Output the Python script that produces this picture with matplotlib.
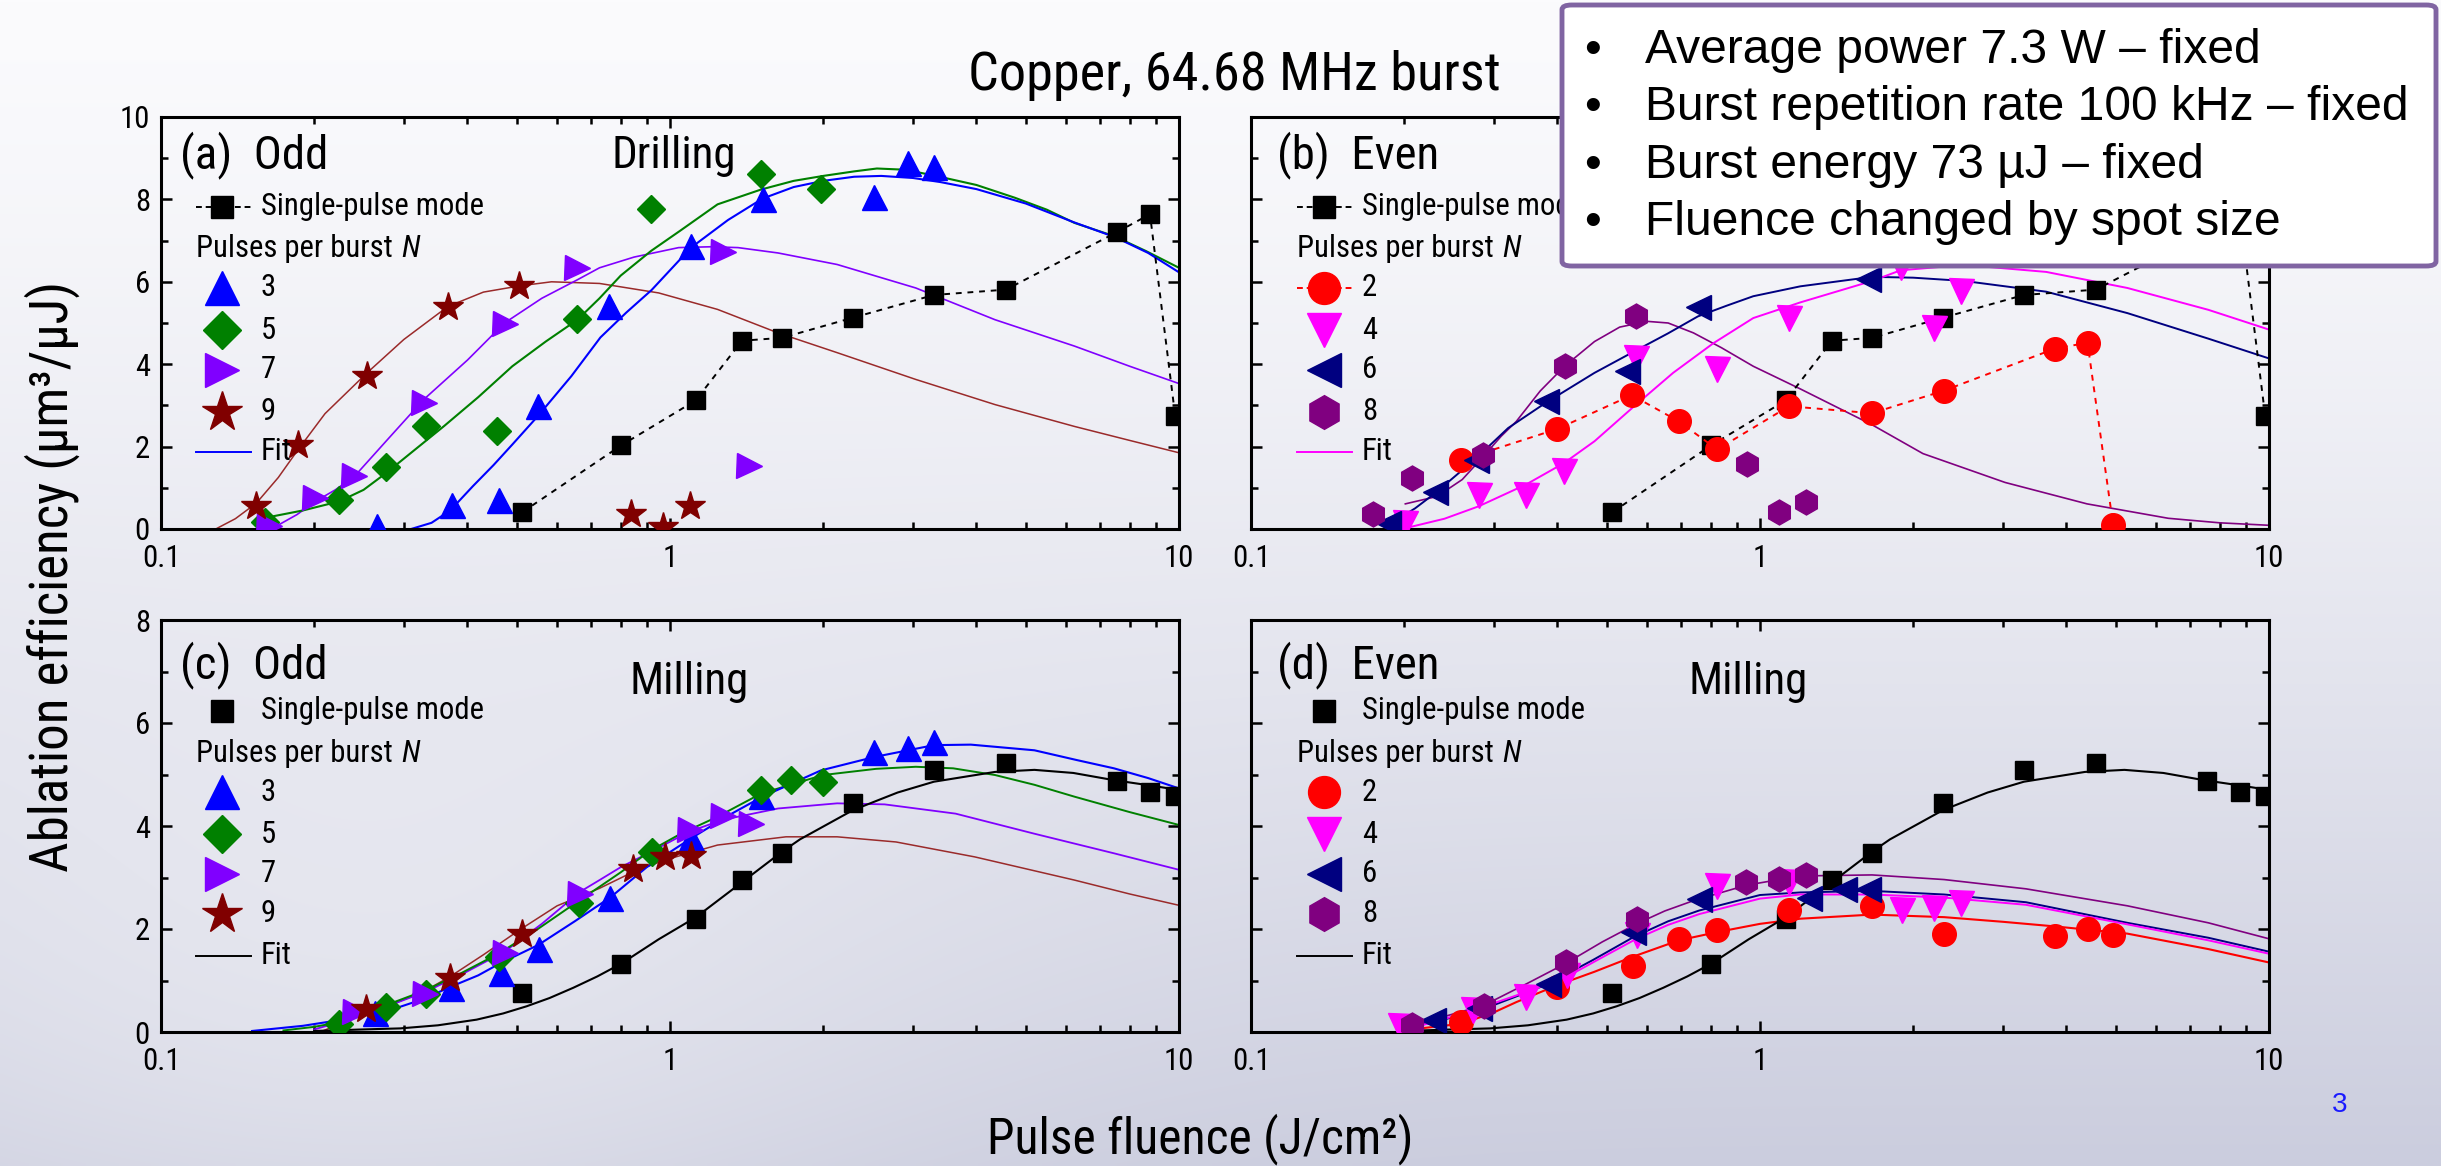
import numpy as np
import matplotlib
matplotlib.use('Agg')
import matplotlib.pyplot as plt
from matplotlib.font_manager import fontManager
from matplotlib.ticker import LogLocator, NullFormatter, MultipleLocator
from matplotlib.patches import FancyBboxPatch

# the figure part of the slide uses a condensed sans face; take one if there is any
_names = {f.name for f in fontManager.ttflist}
FAM, STRETCH = 'Liberation Sans', 'normal'
for _n in ['Liberation Sans Narrow', 'Arial Narrow', 'Roboto Condensed', 'Nimbus Sans Narrow',
           'Open Sans Condensed', 'Noto Sans Condensed']:
    if _n in _names:
        FAM = _n
        break
else:
    for _fam in ['Roboto', 'Noto Sans', 'Open Sans']:
        _hit = [f for f in fontManager.ttflist if f.name == _fam and f.style == 'normal'
                and 'condensed' in str(f.stretch) and str(f.weight) in ('400', 'normal', 'regular')]
        if _hit:
            FAM, STRETCH = _fam, _hit[0].stretch
            break

plt.rcParams['font.family'] = [FAM, 'Liberation Sans', 'DejaVu Sans']
plt.rcParams['font.stretch'] = STRETCH

# ---------------- data ----------------
# single-pulse mode, shared by (a)/(b) and (c)/(d)
SP_X = [0.513, 0.802, 1.123, 1.385, 1.66, 2.29, 3.30, 4.57, 7.54, 8.77, 9.83]
SP_DRILL_Y = [0.41, 2.03, 3.12, 4.57, 4.64, 5.13, 5.68, 5.81, 7.20, 7.64, 2.74]
SP_MILL_Y = [0.76, 1.33, 2.20, 2.96, 3.48, 4.45, 5.08, 5.23, 4.87, 4.66, 4.58]
SP_FIT_X = [0.2, 0.25, 0.295, 0.35, 0.417, 0.47, 0.523, 0.58, 0.646, 0.72, 0.803, 0.95, 1.125,
            1.39, 1.66, 1.8, 2.29, 2.8, 3.30, 4.35, 5.2, 6.2, 7.45, 8.6, 10]
SP_FIT_Y = [0.02, 0.05, 0.07, 0.13, 0.24, 0.36, 0.5, 0.66, 0.86, 1.08, 1.33, 1.8, 2.23,
            2.92, 3.5, 3.74, 4.31, 4.65, 4.86, 5.05, 5.09, 5.03, 4.89, 4.8, 4.70]

# (a) odd, drilling
A3_X = [0.266, 0.373, 0.461, 0.551, 0.76, 1.10, 1.52, 2.52, 2.93, 3.30]
A3_Y = [0.08, 0.59, 0.71, 2.98, 5.42, 6.87, 8.02, 8.06, 8.89, 8.79]
A5_X = [0.160, 0.224, 0.277, 0.331, 0.458, 0.658, 0.918, 1.51, 1.98]
A5_Y = [0.16, 0.70, 1.50, 2.49, 2.39, 5.10, 7.76, 8.62, 8.26]
A7_X = [0.163, 0.201, 0.239, 0.328, 0.473, 0.658, 1.27, 1.43]
A7_Y = [0.08, 0.75, 1.28, 3.07, 4.98, 6.34, 6.72, 1.52]
A9_X = [0.154, 0.186, 0.254, 0.366, 0.506, 0.839, 0.968, 1.097]
A9_Y = [0.55, 2.05, 3.71, 5.38, 5.91, 0.37, 0.06, 0.57]

A3_FIT_X = [0.31, 0.34, 0.37, 0.41, 0.45, 0.49, 0.55, 0.64, 0.73, 0.82, 0.92, 1.1, 1.3, 1.52,
            1.75, 2.0, 2.3, 2.6, 3.0, 3.4, 4.0, 5.0, 6.2, 7.5, 8.7, 10]
A3_FIT_Y = [0.0, 0.15, 0.45, 1.04, 1.55, 2.05, 2.74, 3.71, 4.65, 5.25, 5.8, 6.83, 7.5, 8.02,
            8.3, 8.45, 8.55, 8.57, 8.52, 8.42, 8.25, 7.9, 7.45, 7.08, 6.7, 6.23]
A5_FIT_X = [0.16, 0.19, 0.224, 0.25, 0.277, 0.31, 0.36, 0.42, 0.49, 0.57, 0.658, 0.727, 0.8,
            0.918, 1.05, 1.24, 1.51, 1.75, 2.0, 2.3, 2.55, 2.9, 3.33, 4.0, 4.76, 5.5, 6.23,
            7.45, 8.6, 10]
A5_FIT_Y = [0.27, 0.45, 0.67, 0.95, 1.36, 1.85, 2.5, 3.2, 3.95, 4.55, 5.08, 5.6, 6.15,
            6.75, 7.25, 7.88, 8.24, 8.45, 8.57, 8.68, 8.75, 8.72, 8.57, 8.35, 8.04, 7.75, 7.43,
            7.11, 6.75, 6.34]
A7_FIT_X = [0.168, 0.185, 0.201, 0.22, 0.24, 0.28, 0.328, 0.4, 0.473, 0.56, 0.658, 0.727, 0.85,
            1.04, 1.2, 1.36, 1.63, 2.13, 3.04, 4.35, 6.23, 8.0, 10]
A7_FIT_Y = [0.06, 0.35, 0.67, 0.95, 1.28, 2.2, 3.14, 4.1, 5.0, 5.6, 6.05, 6.34, 6.6,
            6.83, 6.85, 6.83, 6.7, 6.42, 5.85, 5.08, 4.44, 3.95, 3.53]
A9_FIT_X = [0.129, 0.14, 0.154, 0.17, 0.186, 0.21, 0.254, 0.3, 0.366, 0.43, 0.506, 0.585,
            0.727, 0.95, 1.24, 1.63, 2.13, 3.04, 4.35, 6.23, 8.0, 10]
A9_FIT_Y = [0.02, 0.25, 0.63, 1.25, 1.93, 2.8, 3.79, 4.6, 5.4, 5.75, 5.9, 6.0,
            5.96, 5.73, 5.33, 4.76, 4.28, 3.63, 3.02, 2.49, 2.15, 1.85]

# (b) even, drilling
B2_X = [0.258, 0.40, 0.56, 0.693, 0.824, 1.14, 1.66, 2.30, 3.80, 4.40, 4.94]
B2_Y = [1.67, 2.43, 3.25, 2.61, 1.93, 2.98, 2.81, 3.36, 4.38, 4.52, 0.10]
B4_X = [0.201, 0.28, 0.347, 0.412, 0.571, 0.824, 1.14, 1.89, 2.20, 2.48]
B4_Y = [0.15, 0.83, 0.83, 1.40, 4.15, 3.88, 5.12, 6.37, 4.87, 5.78]
B6_X = [0.186, 0.230, 0.277, 0.379, 0.547, 0.755, 1.63]
B6_Y = [0.15, 0.89, 1.68, 3.10, 3.83, 5.40, 6.06]
B8_X = [0.174, 0.207, 0.286, 0.413, 0.571, 0.942, 1.09, 1.23]
B8_Y = [0.36, 1.25, 1.80, 3.95, 5.18, 1.58, 0.41, 0.65]

B4_FIT_X = [0.201, 0.24, 0.28, 0.347, 0.412, 0.473, 0.566, 0.675, 0.81, 0.97, 1.2, 1.66,
            1.89, 2.52, 3.65, 5.27, 7.6, 10]
B4_FIT_Y = [0.02, 0.25, 0.55, 1.08, 1.6, 2.13, 2.98, 3.79, 4.51, 5.12, 5.5, 6.02,
            6.28, 6.41, 6.24, 5.85, 5.32, 4.84]
B6_FIT_X = [0.186, 0.21, 0.23, 0.25, 0.277, 0.32, 0.379, 0.473, 0.566, 0.66, 0.755, 0.86,
            0.97, 1.2, 1.66, 2.0, 2.52, 3.65, 5.27, 7.6, 10]
B6_FIT_Y = [0.1, 0.5, 0.87, 1.25, 1.72, 2.45, 3.06, 3.79, 4.31, 4.75, 5.16, 5.42,
            5.65, 5.89, 6.12, 6.1, 6.02, 5.76, 5.24, 4.62, 4.14]
B8_FIT_X = [0.201, 0.232, 0.26, 0.286, 0.31, 0.332, 0.37, 0.413, 0.473, 0.53, 0.6, 0.66,
            0.74, 0.84, 0.97, 1.2, 1.66, 2.09, 3.03, 4.39, 6.34, 8.0, 10]
B8_FIT_Y = [0.61, 0.79, 1.2, 1.76, 2.25, 2.61, 3.35, 3.95, 4.55, 4.9, 5.04, 5.0,
            4.76, 4.4, 3.95, 3.4, 2.53, 1.83, 1.13, 0.61, 0.26, 0.15, 0.09]

# (c) odd, milling
C3_X = [0.263, 0.372, 0.465, 0.553, 0.763, 1.10, 1.51, 2.52, 2.93, 3.30]
C3_Y = [0.36, 0.85, 1.15, 1.62, 2.60, 3.77, 4.58, 5.44, 5.51, 5.63]
C5_X = [0.224, 0.277, 0.332, 0.461, 0.662, 0.92, 1.51, 1.73, 2.0]
C5_Y = [0.16, 0.49, 0.74, 1.45, 2.50, 3.49, 4.69, 4.89, 4.86]
C7_X = [0.24, 0.33, 0.475, 0.665, 1.094, 1.27, 1.44]
C7_Y = [0.39, 0.74, 1.54, 2.68, 3.92, 4.19, 4.04]
C9_X = [0.253, 0.370, 0.512, 0.844, 0.978, 1.10]
C9_Y = [0.45, 1.05, 1.90, 3.16, 3.39, 3.42]

C3_FIT_X = [0.151, 0.19, 0.224, 0.26, 0.287, 0.33, 0.369, 0.42, 0.463, 0.551, 0.65, 0.765,
            0.9, 1.10, 1.3, 1.52, 1.98, 2.52, 3.30, 3.9, 5.2, 6.3, 7.45, 8.7, 10]
C3_FIT_Y = [0.02, 0.12, 0.23, 0.36, 0.45, 0.65, 0.87, 1.1, 1.33, 1.69, 2.15, 2.62,
            3.2, 3.76, 4.2, 4.57, 5.08, 5.34, 5.57, 5.58, 5.47, 5.28, 5.12, 4.93, 4.73]
C5_FIT_X = [0.174, 0.2, 0.224, 0.26, 0.287, 0.331, 0.39, 0.46, 0.55, 0.658, 0.727, 0.8,
            0.918, 1.05, 1.24, 1.51, 2.0, 2.54, 3.04, 3.6, 4.35, 5.2, 6.23, 8.0, 10]
C5_FIT_Y = [0.03, 0.1, 0.19, 0.4, 0.58, 0.81, 1.15, 1.52, 2.0, 2.53, 2.82, 3.1,
            3.53, 3.85, 4.18, 4.63, 4.99, 5.11, 5.15, 5.12, 4.99, 4.8, 4.57, 4.27, 4.02]
C7_FIT_X = [0.2, 0.224, 0.26, 0.287, 0.331, 0.39, 0.473, 0.56, 0.665, 0.727, 0.8, 0.918,
            1.09, 1.27, 1.63, 2.13, 2.64, 3.64, 5.2, 7.45, 10]
C7_FIT_Y = [0.05, 0.19, 0.4, 0.55, 0.78, 1.12, 1.56, 2.1, 2.72, 2.95, 3.2, 3.5,
            3.89, 4.12, 4.34, 4.44, 4.42, 4.24, 3.85, 3.47, 3.15]
C9_FIT_X = [0.209, 0.23, 0.253, 0.287, 0.33, 0.369, 0.43, 0.506, 0.6, 0.727, 0.847, 0.977,
            1.24, 1.69, 2.13, 2.78, 3.97, 6.23, 8.0, 10]
C9_FIT_Y = [0.03, 0.2, 0.36, 0.55, 0.8, 1.07, 1.5, 1.98, 2.45, 2.79, 3.11, 3.34,
            3.63, 3.79, 3.79, 3.69, 3.40, 2.95, 2.68, 2.46]

# (d) even, milling
D2_X = [0.259, 0.40, 0.562, 0.693, 0.824, 1.14, 1.66, 2.30, 3.80, 4.40, 4.94]
D2_Y = [0.19, 0.87, 1.28, 1.81, 1.99, 2.37, 2.45, 1.91, 1.87, 2.0, 1.89]
D4_X = [0.196, 0.273, 0.347, 0.417, 0.572, 0.824, 1.14, 1.90, 2.20, 2.48]
D4_Y = [0.11, 0.43, 0.68, 1.10, 1.88, 2.83, 2.92, 2.36, 2.40, 2.51]
D6_X = [0.228, 0.28, 0.383, 0.562, 0.76, 1.25, 1.46, 1.63]
D6_Y = [0.24, 0.47, 0.94, 1.94, 2.59, 2.60, 2.78, 2.78]
D8_X = [0.207, 0.287, 0.415, 0.572, 0.94, 1.09, 1.23]
D8_Y = [0.13, 0.50, 1.36, 2.20, 2.92, 2.98, 3.05]

D2_FIT_X = [0.194, 0.259, 0.3, 0.332, 0.40, 0.473, 0.562, 0.693, 0.824, 1.0, 1.2, 1.66,
            2.3, 3.0, 3.8, 5.27, 7.6, 10]
D2_FIT_Y = [0.02, 0.16, 0.38, 0.58, 0.91, 1.17, 1.46, 1.78, 1.94, 2.1, 2.2, 2.28,
            2.23, 2.14, 2.05, 1.91, 1.61, 1.35]
D4_FIT_X = [0.196, 0.23, 0.273, 0.33, 0.417, 0.49, 0.572, 0.66, 0.76, 1.0, 1.2, 1.66,
            2.3, 3.33, 5.27, 7.6, 10]
D4_FIT_Y = [0.02, 0.2, 0.42, 0.7, 1.07, 1.45, 1.81, 2.08, 2.29, 2.59, 2.67, 2.67,
            2.61, 2.47, 2.09, 1.78, 1.52]
D6_FIT_X = [0.194, 0.23, 0.28, 0.33, 0.383, 0.47, 0.566, 0.66, 0.76, 1.0, 1.2, 1.66,
            2.3, 3.33, 5.27, 7.6, 10]
D6_FIT_Y = [0.03, 0.2, 0.41, 0.68, 0.93, 1.4, 1.85, 2.15, 2.36, 2.66, 2.71, 2.74,
            2.67, 2.52, 2.12, 1.83, 1.56]
D8_FIT_X = [0.194, 0.23, 0.287, 0.35, 0.415, 0.49, 0.572, 0.65, 0.74, 0.94, 1.2, 1.66,
            2.3, 3.33, 5.27, 7.6, 10]
D8_FIT_Y = [0.06, 0.25, 0.52, 0.95, 1.33, 1.75, 2.1, 2.35, 2.55, 2.85, 3.03, 3.05,
            2.96, 2.78, 2.45, 2.12, 1.81]

TITLE = 'Copper, 64.68 MHz burst'
YLABEL = 'Ablation efficiency (\u00b5m\u00b3/\u00b5J)'
XLABEL = 'Pulse fluence (J/cm\u00b2)'
BOX_LINES = ['Average power 7.3 W \u2013 fixed',
             'Burst repetition rate 100 kHz \u2013 fixed',
             'Burst energy 73 \u00b5J \u2013 fixed',
             'Fluence changed by spot size']

# ---------------- styles ----------------
STY = {
    3: dict(marker='^', color='#0000ff', ms=18),
    5: dict(marker='D', color='#008000', ms=14),
    7: dict(marker='>', color='#8000ff', ms=18),
    9: dict(marker='*', color='#800000', ms=22),
    2: dict(marker='o', color='#ff0000', ms=17),
    4: dict(marker='v', color='#ff00ff', ms=18),
    6: dict(marker='<', color='#000080', ms=18),
    8: dict(marker='h', color='#800080', ms=18),
}
W, H = 2441, 1166

fig = plt.figure(figsize=(W / 100, H / 100), dpi=100)
R = fig.canvas.get_renderer()


def text_w(s, size, **kw):
    t = fig.text(0, 0, s, fontsize=size, **kw)
    w = t.get_window_extent(R).width
    t.remove()
    return w


def fit_size(s, target_px, **kw):
    # font size that gives the text the width it has in the slide
    return 30.0 * target_px / text_w(s, 30.0, **kw)


FS = fit_size('Single-pulse mode', 223)
TAG_FS = fit_size('(a)  Odd', 148)
MODE_FS = fit_size('Drilling', 125)
TITLE_FS = fit_size(TITLE, 532)
YL_FS = fit_size(YLABEL, 592)
XL_FS = fit_size(XLABEL, 427)
BOX_KW = dict(family='Liberation Sans', stretch='normal')
BOX_FS = fit_size(BOX_LINES[1], 762, **BOX_KW)

# slide background
bg = fig.add_axes([0, 0, 1, 1], zorder=-10)
yy = np.linspace(0, 1, 240)[:, None]
xx = np.linspace(0, 1, 480)[None, :]
top = np.array([251, 251, 253]) / 255.0
bot = np.array([203, 205, 222]) / 255.0
t = (yy ** 1.3) * np.ones_like(xx)
img = top * (1 - t[..., None]) + bot * t[..., None]
blob = np.exp(-(((xx - 0.15) / 0.25) ** 2 + ((yy - 0.85) / 0.3) ** 2))
img = img + (1 - img) * 0.35 * blob[..., None]
bg.imshow(img, aspect='auto', extent=[0, 1, 0, 1], interpolation='bilinear')
bg.axis('off')


def px_axes(l, r, t_, b_):
    return [l / W, 1 - b_ / H, (r - l) / W, (b_ - t_) / H]


axA = fig.add_axes(px_axes(161, 1179, 117, 529))
axB = fig.add_axes(px_axes(1251, 2269, 117, 529))
axC = fig.add_axes(px_axes(161, 1179, 620, 1032))
axD = fig.add_axes(px_axes(1251, 2269, 620, 1032))


def setup(ax, ymax, ylabels):
    ax.set_facecolor('none')
    ax.set_xscale('log')
    ax.set_xlim(0.1, 10)
    ax.set_ylim(0, ymax)
    ax.set_xticks([0.1, 1, 10])
    ax.set_xticklabels(['0.1', '1', '10'])
    ax.xaxis.set_minor_locator(LogLocator(base=10, subs=np.arange(2, 10)))
    ax.xaxis.set_minor_formatter(NullFormatter())
    ax.yaxis.set_major_locator(MultipleLocator(2))
    ax.yaxis.set_minor_locator(MultipleLocator(1))
    ax.tick_params(which='both', direction='in', top=True, right=True, width=1.8,
                   labelsize=FS, pad=8, labelleft=ylabels)
    ax.tick_params(axis='x', which='major', pad=11)
    ax.tick_params(which='major', length=8)
    ax.tick_params(which='minor', length=5)
    for s in ax.spines.values():
        s.set_linewidth(2.2)


def pts(ax, x, y, n, z=3):
    s = STY[n]
    ax.plot(x, y, ls='none', marker=s['marker'], color=s['color'], ms=s['ms'],
            mec=s['color'], zorder=z)


def fit(ax, x, y, color, lw=1.3):
    ax.plot(x, y, color=color, lw=lw, zorder=2)


def key(ax, xm, xt, y, n=None, label='', line=None, square=False, ls='-', lcol='k'):
    tr = ax.transAxes
    if line is not None:
        ax.plot(line, [y, y], transform=tr, color=lcol, lw=1.4, ls=ls, clip_on=False, zorder=4)
    if square:
        ax.plot([xm], [y], 's', color='k', ms=16, transform=tr, clip_on=False, zorder=5)
    elif n is not None:
        s = STY[n]
        ax.plot([xm], [y], marker=s['marker'], color=s['color'], ms=s['ms'] * 1.35,
                transform=tr, clip_on=False, zorder=5)
    ax.text(xt, y, label, transform=tr, va='center', ha='left', fontsize=FS, zorder=5)


def header(ax, tag, kind, mode, ys, odd, dashed, fitcol, mode_x, mode_y):
    tr = ax.transAxes
    x0 = 0.019 if odd else 0.026
    ax.text(x0, ys[0], tag + '  ' + kind, transform=tr, va='center', fontsize=TAG_FS)
    if mode:
        ax.text(mode_x, mode_y, mode, transform=tr, va='center', fontsize=MODE_FS)
    xm = 0.06 if odd else 0.072
    xt = 0.098 if odd else 0.109
    xl = 0.034 if odd else 0.045
    key(ax, xm, xt, ys[1], label='Single-pulse mode', square=True,
        line=[xl, xt - 0.008] if dashed else None, ls=(0, (3, 2)))
    t1 = ax.text(xl, ys[2], 'Pulses per burst', transform=tr, va='bottom', fontsize=FS)
    ax.annotate('N', xy=(1, 0), xycoords=t1, xytext=(0.28 * FS, 0), textcoords='offset points',
                va='bottom', ha='left', fontsize=FS, style='italic')
    ns = [3, 5, 7, 9] if odd else [2, 4, 6, 8]
    for i, n in enumerate(ns):
        ln = None
        if n == 2 and dashed:
            ln = [xl, xt - 0.008]
        key(ax, xm, xt, ys[3 + i], n=n, label=str(n), line=ln, ls=(0, (3, 2)), lcol='#ff0000')
    key(ax, xm, xt, ys[7], label='Fit', line=[xl, xt - 0.01], lcol=fitcol)


TOP_Y = [0.908, 0.782, 0.645, 0.585, 0.483, 0.386, 0.285, 0.188]
BOT_Y = [0.89, 0.78, 0.64, 0.582, 0.48, 0.384, 0.287, 0.185]

# ---- (a)
setup(axA, 10, True)
fit(axA, A9_FIT_X, A9_FIT_Y, '#9a2a2a', 1.1)
fit(axA, A7_FIT_X, A7_FIT_Y, '#8000ff', 1.2)
fit(axA, A5_FIT_X, A5_FIT_Y, '#008000', 1.5)
fit(axA, A3_FIT_X, A3_FIT_Y, '#0000ff', 1.5)
axA.plot(SP_X, SP_DRILL_Y, color='k', ls=(0, (3, 3)), lw=1.4, marker='s', ms=13, zorder=3)
pts(axA, A3_X, A3_Y, 3)
pts(axA, A5_X, A5_Y, 5)
pts(axA, A7_X, A7_Y, 7)
pts(axA, A9_X, A9_Y, 9)
header(axA, '(a)', 'Odd', 'Drilling', TOP_Y, True, True, '#0000ff', 0.443, 0.905)

# ---- (b)  (its "Drilling" label sits under the info box)
setup(axB, 10, False)
fit(axB, B8_FIT_X, B8_FIT_Y, '#800080', 1.2)
fit(axB, B6_FIT_X, B6_FIT_Y, '#000080', 1.4)
fit(axB, B4_FIT_X, B4_FIT_Y, '#ff00ff', 1.4)
axB.plot(SP_X, SP_DRILL_Y, color='k', ls=(0, (3, 3)), lw=1.4, marker='s', ms=13, zorder=3)
axB.plot(B2_X, B2_Y, color='#ff0000', ls=(0, (3, 3)), lw=1.4, marker='o', ms=17, zorder=3)
pts(axB, B4_X, B4_Y, 4)
pts(axB, B6_X, B6_Y, 6)
pts(axB, B8_X, B8_Y, 8)
header(axB, '(b)', 'Even', None, TOP_Y, False, True, '#ff00ff', 0.43, 0.905)

# ---- (c)
setup(axC, 8, True)
fit(axC, C9_FIT_X, C9_FIT_Y, '#9a2a2a', 1.1)
fit(axC, C7_FIT_X, C7_FIT_Y, '#8000ff', 1.3)
fit(axC, C5_FIT_X, C5_FIT_Y, '#008000', 1.4)
fit(axC, C3_FIT_X, C3_FIT_Y, '#0000ff', 1.5)
fit(axC, SP_FIT_X, SP_FIT_Y, 'k', 1.5)
axC.plot(SP_X, SP_MILL_Y, ls='none', color='k', marker='s', ms=13, zorder=3)
pts(axC, C3_X, C3_Y, 3)
pts(axC, C5_X, C5_Y, 5)
pts(axC, C7_X, C7_Y, 7)
pts(axC, C9_X, C9_Y, 9)
header(axC, '(c)', 'Odd', 'Milling', BOT_Y, True, False, 'k', 0.46, 0.85)

# ---- (d)
setup(axD, 8, False)
fit(axD, D8_FIT_X, D8_FIT_Y, '#800080', 1.2)
fit(axD, D6_FIT_X, D6_FIT_Y, '#000080', 1.4)
fit(axD, D4_FIT_X, D4_FIT_Y, '#ff00ff', 1.4)
fit(axD, D2_FIT_X, D2_FIT_Y, '#ff0000', 1.5)
fit(axD, SP_FIT_X, SP_FIT_Y, 'k', 1.5)
axD.plot(SP_X, SP_MILL_Y, ls='none', color='k', marker='s', ms=13, zorder=3)
pts(axD, D2_X, D2_Y, 2)
pts(axD, D4_X, D4_Y, 4)
pts(axD, D6_X, D6_Y, 6)
pts(axD, D8_X, D8_Y, 8)
header(axD, '(d)', 'Even', 'Milling', BOT_Y, False, False, 'k', 0.43, 0.85)

# ---- figure texts
fig.text(1234 / W, 1 - 90 / H, TITLE, ha='center', va='baseline', fontsize=TITLE_FS)
fig.text(52 / W, 0.506, YLABEL, rotation=90, ha='center', va='center', fontsize=YL_FS)
fig.text(1200 / W, 1 - 1153 / H, XLABEL, ha='center', va='baseline', fontsize=XL_FS)
fig.text(2340 / W, 1 - 1105 / H, '3', color='#1a1aff', ha='center', va='center', fontsize=20,
         **BOX_KW)

# info box (regular face)
box = FancyBboxPatch((1562 / W, 1 - 266 / H), (2436 - 1562) / W, (266 - 5) / H,
                     boxstyle='round,pad=0,rounding_size=0.004', transform=fig.transFigure,
                     fc='white', ec='#8064a2', lw=3.5, zorder=5)
fig.patches.append(box)
for i, line in enumerate(BOX_LINES):
    yb = 1 - (63 + 57.3 * i) / H
    fig.text(1592 / W, yb, '\u2022', ha='center', va='baseline', fontsize=BOX_FS, zorder=6,
             **BOX_KW)
    fig.text(1645 / W, yb, line, ha='left', va='baseline', fontsize=BOX_FS, zorder=6, **BOX_KW)

fig.savefig('out.png', dpi=100)
